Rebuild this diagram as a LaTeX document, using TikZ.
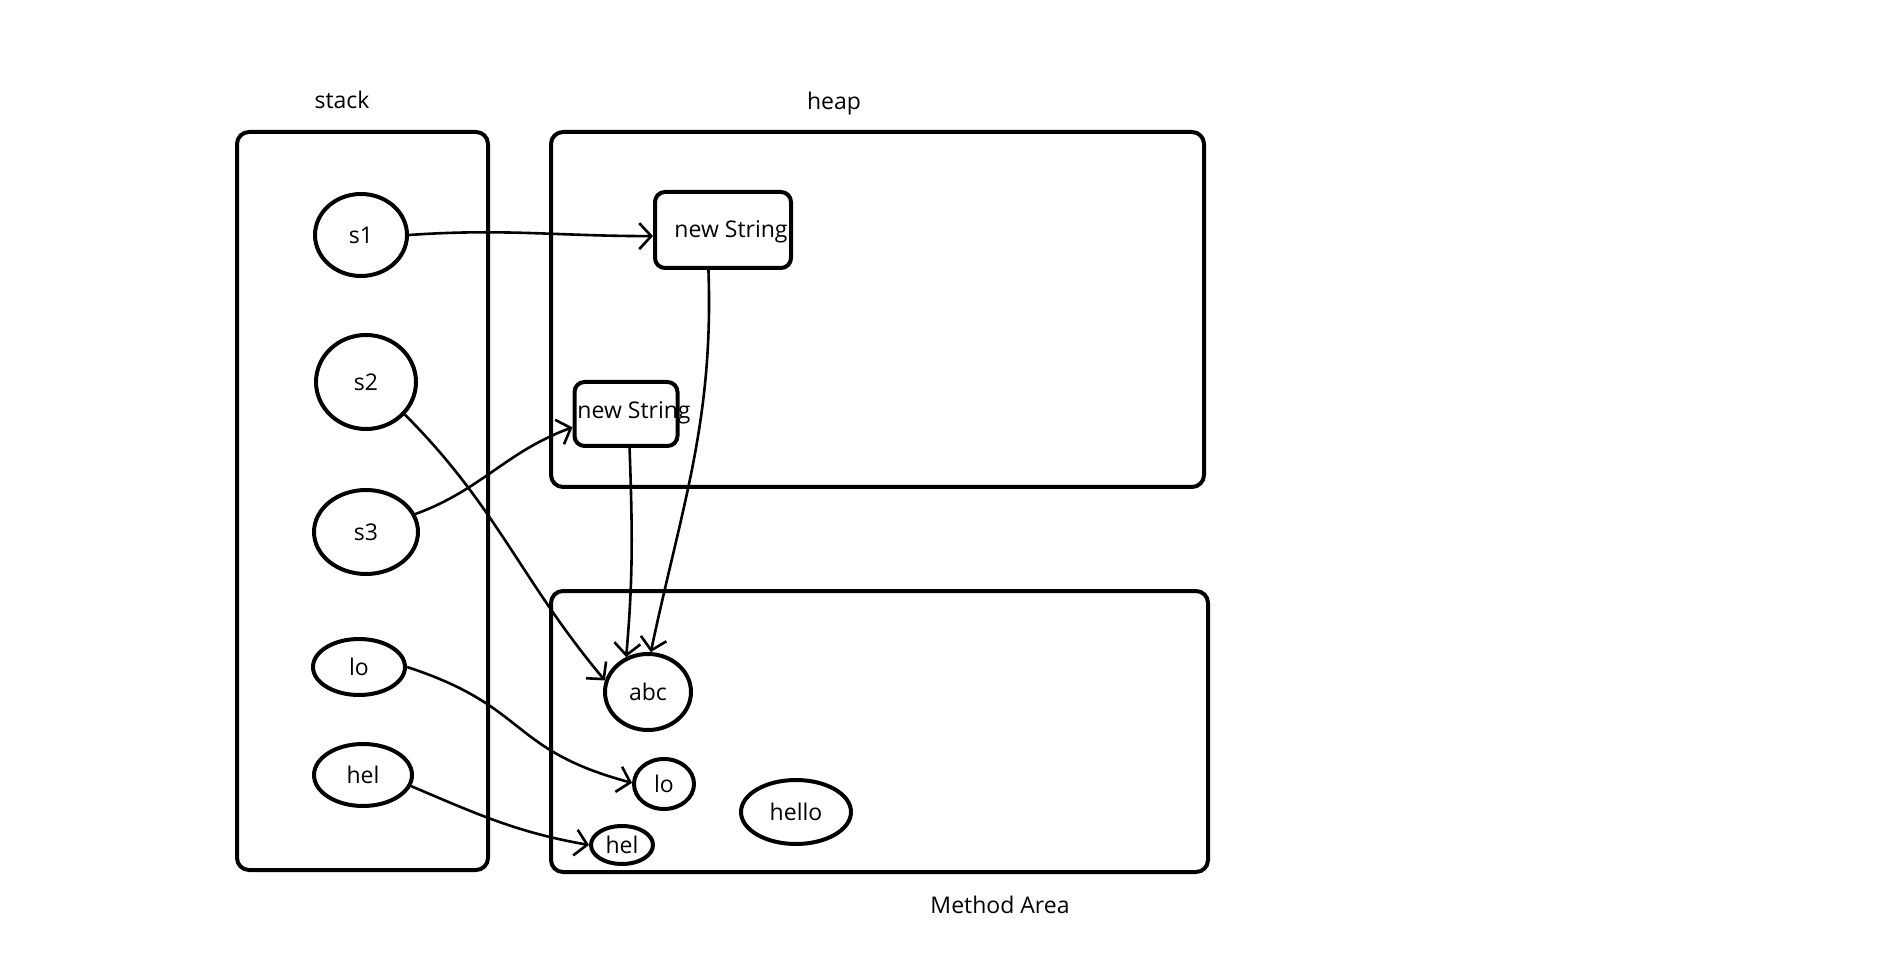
\documentclass[tikz,border=0pt]{standalone}
\usepackage{fontspec}
\setmainfont{Open Sans}
\usepackage{tikz}
\usetikzlibrary{positioning, shapes.geometric, arrows.meta}
\tikzstyle{memory} = [x = 1pt, y = 1pt, every node/.style={font=\fontsize{23}{28}\selectfont}]
\tikzstyle{memAreaStyle} = [color=black, line width=4pt, rounded corners = 12pt]
\tikzstyle{varStyle} = [draw, ellipse, line width=4pt, inner sep=0pt]
\tikzstyle{objStyle} = [draw, line width=4pt, rounded corners = 10pt, inner sep=0pt]
\tikzstyle{refArrow} = [line width=2.6pt, -{Straight Barb[length=12pt, width=26pt]}]
\newcommand{\memArea}[4]{\draw [memAreaStyle] (#1, #2) rectangle (#3, #4);}
\newcommand{\refVar}[6]{\node [varStyle, minimum width=#4pt, minimum height=#5pt] (#1) at (#2, #3) {#6};}
\newcommand{\newObj}[7]{
  \node [objStyle, minimum width=#4pt, minimum height=#5pt] (#1Box) at (#2, #3) {};
  \node (#1Text) at (#6, #7) {new String};
}

\begin{document}
\begin{tikzpicture}[memory]
        \useasboundingbox (0, 0) rectangle (1881, 954);
        \memArea{237}{84}{488}{822}
        \memArea{551}{467}{1204}{822}
        \memArea{551}{82}{1208}{363}
        \node (stackLabel) at (342, 854) {stack};
        \node (heapLabel) at (834, 850) {heap};
        \node (methodLabel) at (1000, 49) {Method Area};

        \refVar{s1}{361}{719}{92}{82}{s1}
        \refVar{s2}{366}{572}{100}{94}{s2}
        \refVar{s3}{366}{422}{104}{84}{s3}
        \refVar{loVar}{359}{287}{92}{56}{lo}
        \refVar{helVar}{363}{179}{98}{62}{hel}
        \refVar{abc}{648}{262}{86}{76}{abc}
        \refVar{loStr}{664}{170}{60}{50}{lo}
        \refVar{helStr}{622}{109}{62}{38}{hel}
        \refVar{hello}{796}{142}{110}{64}{hello}

        \newObj{nsOne}{723}{724}{136}{76}{731}{722}
        \newObj{nsTwo}{626}{540}{103}{64}{634}{541}

        \draw [refArrow] (s1.0) to [out=4, in=180] (nsOneBox.185);
        \draw [refArrow] (s2.-40) to [out=-45, in=130] (abc.165);
        \draw [refArrow] (s3.20) to [out=20, in=200] (nsTwoBox.194);
        \draw [refArrow] (nsOneBox.-110) to [out=-88, in=78] (abc.86);
        \draw [refArrow] (nsTwoBox.-84) to [out=-88, in=85] (abc.122);
        \draw [refArrow] (loVar.0) to [out=-18, in=165, looseness=1.3] (loStr.178);
        \draw [refArrow] (helVar.-13) to [out=-23, in=170] (helStr.180);
      \end{tikzpicture}
\end{document}
